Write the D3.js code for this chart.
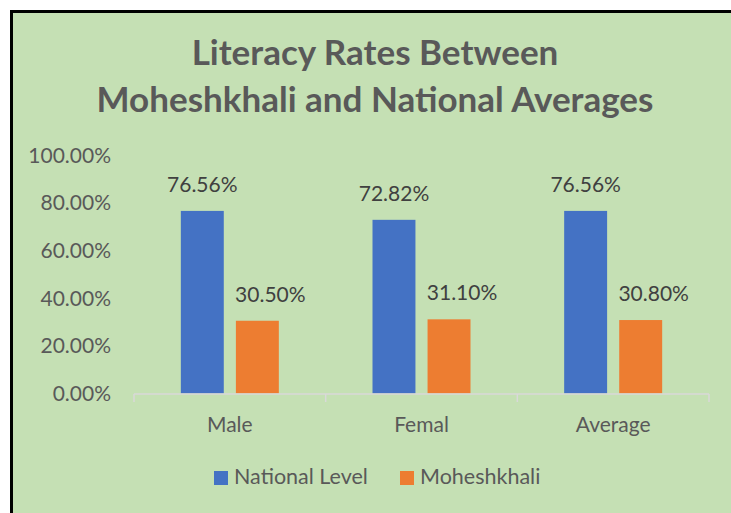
<!DOCTYPE html>
<meta charset="utf-8">
<style>
body { margin: 0; }
svg { display: block; font-family: Lato, "Open Sans", sans-serif; }
</style>
<svg width="731" height="513"></svg>
<script src="https://d3js.org/d3.v7.min.js"></script>
<script>

// data
var categories = ["Male", "Femal", "Average"];
var seriesNames = ["National Level", "Moheshkhali"];
var national = [76.56, 72.82, 76.56];
var moheshkhali = [30.50, 31.10, 30.80];
var yTicks = [0, 20, 40, 60, 80, 100];
var colors = ["#4472C4", "#ED7D31"];

var svg = d3.select("svg"),
    width = +svg.attr("width"),
    height = +svg.attr("height");

// background + border
svg.append("rect")
    .attr("x", 11.5).attr("y", 11.5)
    .attr("width", width + 20).attr("height", height + 20)
    .attr("fill", "#C5E0B4")
    .attr("stroke", "#000")
    .attr("stroke-width", 3);

// title
var title = svg.append("text")
    .attr("text-anchor", "middle")
    .attr("fill", "#595959")
    .attr("font-weight", "bold")
    .attr("font-size", 35);
title.append("tspan").attr("x", 375).attr("y", 65).text("Literacy Rates Between");
title.append("tspan").attr("x", 375).attr("y", 112).text("Moheshkhali and National Averages");

// scales
var x = d3.scaleBand()
    .domain(categories)
    .range([134, 709]);

var x1 = d3.scaleBand()
    .domain(seriesNames)
    .range([-49, 49])
    .paddingInner(0.22);

var y = d3.scaleLinear()
    .domain([0, 100])
    .range([393.5, 155]);

// y axis labels
svg.append("g")
  .selectAll("text")
  .data(yTicks)
  .enter().append("text")
    .attr("x", 111)
    .attr("y", function(d) { return y(d) + 7.5; })
    .attr("text-anchor", "end")
    .attr("fill", "#595959")
    .attr("font-size", 21)
    .text(function(d) { return d.toFixed(2) + "%"; });

// bars
var rows = categories.map(function(c, i) {
  return { cat: c, values: [national[i], moheshkhali[i]] };
});

var groups = svg.append("g")
  .selectAll("g")
  .data(rows)
  .enter().append("g")
    .attr("transform", function(d) { return "translate(" + (x(d.cat) + x.bandwidth() / 2) + ",0)"; });

groups.selectAll("rect")
  .data(function(d) { return d.values.map(function(v, j) { return { name: seriesNames[j], v: v, j: j }; }); })
  .enter().append("rect")
    .attr("x", function(d) { return x1(d.name); })
    .attr("width", x1.bandwidth())
    .attr("y", function(d) { return y(d.v); })
    .attr("height", function(d) { return y(0) - y(d.v); })
    .attr("fill", function(d) { return colors[d.j]; });

// value labels
groups.selectAll("text")
  .data(function(d) { return d.values.map(function(v, j) { return { name: seriesNames[j], v: v, j: j }; }); })
  .enter().append("text")
    .attr("x", function(d) { return x1(d.name) + x1.bandwidth() / 2 + (d.j ? 13 : 0); })
    .attr("y", function(d) { return y(d.v) - 19; })
    .attr("text-anchor", "middle")
    .attr("fill", "#404040")
    .attr("font-size", 21)
    .text(function(d) { return d.v.toFixed(2) + "%"; });

// x axis
var xAxis = svg.append("g")
    .attr("transform", "translate(0," + 394 + ")");
xAxis.append("line")
    .attr("x1", 134).attr("x2", 709)
    .attr("stroke", "#D9D9D9").attr("stroke-width", 1.5);
xAxis.selectAll(".tick")
  .data(categories.map(function(c) { return x(c); }).concat([x.range()[1]]))
  .enter().append("line")
    .attr("x1", function(d) { return d; })
    .attr("x2", function(d) { return d; })
    .attr("y1", 0).attr("y2", 8)
    .attr("stroke", "#D9D9D9").attr("stroke-width", 1.5);
xAxis.selectAll("text")
  .data(categories)
  .enter().append("text")
    .attr("x", function(d) { return x(d) + x.bandwidth() / 2; })
    .attr("y", 38)
    .attr("text-anchor", "middle")
    .attr("fill", "#595959")
    .attr("font-size", 21)
    .text(function(d) { return d; });

// legend
var legendX = [214, 400];
var legend = svg.append("g")
  .selectAll("g")
  .data(seriesNames)
  .enter().append("g")
    .attr("transform", function(d, i) { return "translate(" + legendX[i] + ",471)"; });
legend.append("rect")
    .attr("width", 14).attr("height", 14)
    .attr("fill", function(d, i) { return colors[i]; });
legend.append("text")
    .attr("x", 20)
    .attr("y", 13)
    .attr("fill", "#595959")
    .attr("font-size", 21.5)
    .text(function(d) { return d; });

</script>
